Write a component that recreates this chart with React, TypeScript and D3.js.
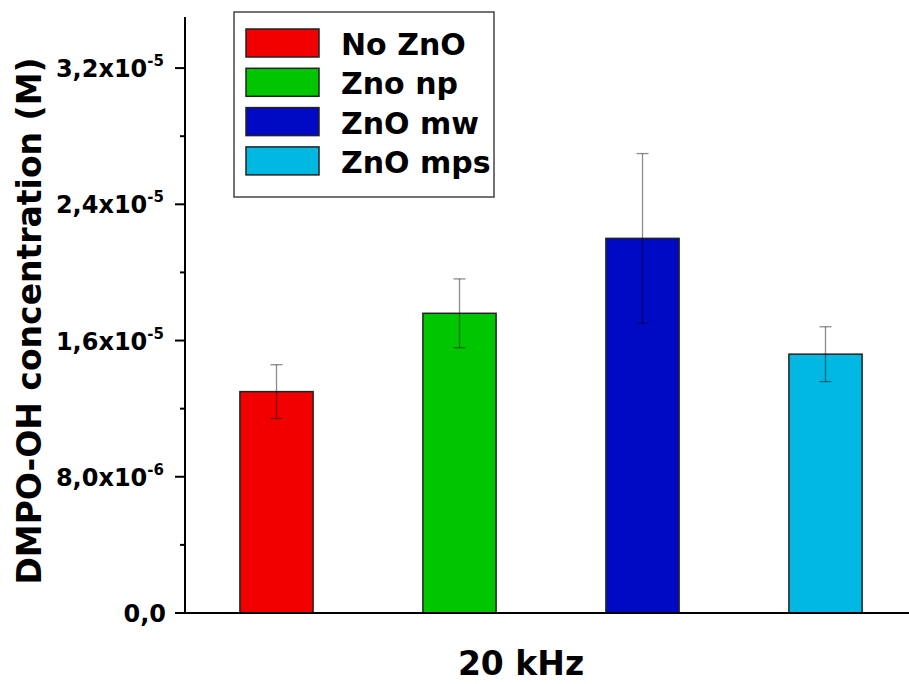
import React from "react";
import * as d3 from "d3";

const categories = ["No ZnO", "Zno np", "ZnO mw", "ZnO mps"];
const values = [1.30e-5, 1.76e-5, 2.20e-5, 1.52e-5];
const errors = [1.58e-6, 2.02e-6, 4.98e-6, 1.61e-6];
const colors = ["#f20000", "#00c600", "#000ac4", "#00b8e2"];
const majorTicks = [0, 8e-6, 1.6e-5, 2.4e-5, 3.2e-5];
const majorLabels: [string, string][] = [["0,0", ""], ["8,0x10", "-6"], ["1,6x10", "-5"], ["2,4x10", "-5"], ["3,2x10", "-5"]];
const minorTicks = [4e-6, 1.2e-5, 2.0e-5, 2.8e-5];
const xTitle = "20 kHz";
const yTitle = "DMPO-OH concentration (M)";

const W = 909, H = 684;
const left = 185, right = 917, top = 17, bottom = 613;
const font = "'DejaVu Sans', Verdana, sans-serif";

export default function App() {
  const x = d3.scaleBand<string>().domain(categories).range([left, right]).paddingInner(0.6).paddingOuter(0.3);
  const y = d3.scaleLinear().domain([0, 3.5e-5]).range([bottom, top]);
  const bw = x.bandwidth();
  return (
    <svg width={W} height={H} style={{ position: "absolute", left: 0, top: 0, background: "#fff" }}>
      {categories.map((c, i) => {
        const x0 = x(c)!;
        const cx = x0 + bw / 2;
        const yTop = y(values[i]);
        return (
          <g key={c}>
            <rect x={x0} y={yTop} width={bw} height={bottom - yTop} fill={colors[i]} stroke="#222" strokeWidth={1.5} />
            <line x1={cx} x2={cx} y1={y(values[i] + errors[i])} y2={y(values[i] - errors[i])} stroke="#000" strokeOpacity={0.45} strokeWidth={1.3} />
            <line x1={cx - 6} x2={cx + 6} y1={y(values[i] + errors[i])} y2={y(values[i] + errors[i])} stroke="#000" strokeOpacity={0.45} strokeWidth={1.3} />
            <line x1={cx - 6} x2={cx + 6} y1={y(values[i] - errors[i])} y2={y(values[i] - errors[i])} stroke="#000" strokeOpacity={0.45} strokeWidth={1.3} />
          </g>
        );
      })}
      {/* axes */}
      <line x1={left} x2={left} y1={top} y2={bottom} stroke="#000" strokeWidth={2} />
      <line x1={left - 1} x2={W} y1={bottom} y2={bottom} stroke="#000" strokeWidth={2} />
      {majorTicks.map((t, i) => (
        <g key={"M" + i}>
          <line x1={left - 10} x2={left} y1={y(t)} y2={y(t)} stroke="#000" strokeWidth={2} />
          <text x={majorLabels[i][1] ? 164 : 166} y={y(t) + 9} textAnchor="end" fontFamily={font} fontWeight="bold" fontSize={24} fill="#000">
            {majorLabels[i][0]}
            {majorLabels[i][1] && <tspan dy={-11} fontSize={15}>{majorLabels[i][1]}</tspan>}
          </text>
        </g>
      ))}
      {minorTicks.map((t, i) => (
        <line key={"m" + i} x1={left - 5} x2={left} y1={y(t)} y2={y(t)} stroke="#000" strokeWidth={2} />
      ))}
      <text transform={`translate(41, ${(57 + 585) / 2}) rotate(-90)`} textAnchor="middle" fontFamily={font} fontWeight="bold" fontSize={33} fill="#000">{yTitle}</text>
      <text x={521} y={675} textAnchor="middle" fontFamily={font} fontWeight="bold" fontSize={33} fill="#000">{xTitle}</text>
      {/* legend */}
      <rect x={234} y={12} width={260} height={185} fill="#fff" stroke="#444" strokeWidth={1.5} />
      {categories.map((c, i) => {
        const ry = 29 + i * 39.3;
        return (
          <g key={"L" + c}>
            <rect x={246} y={ry} width={73} height={28} fill={colors[i]} stroke="#222" strokeWidth={1.5} />
            <text x={341} y={ry + 26} fontFamily={font} fontWeight="bold" fontSize={30} fill="#000">{c}</text>
          </g>
        );
      })}
    </svg>
  );
}
